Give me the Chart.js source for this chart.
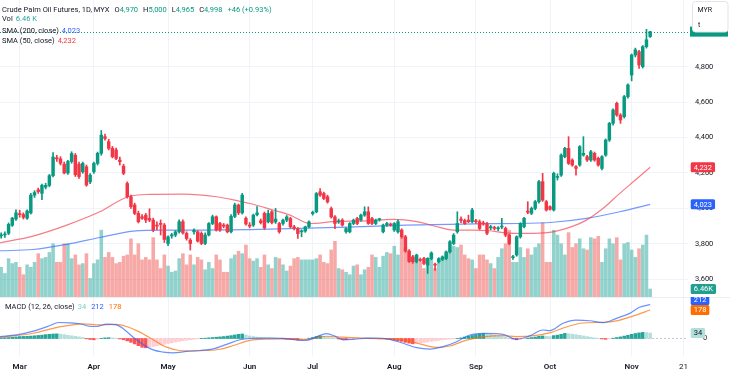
<!DOCTYPE html>
<html><head><meta charset="utf-8">
<script src="https://cdn.jsdelivr.net/npm/chart.js@4.4.1/dist/chart.umd.min.js"></script>
<style>
html,body{margin:0;padding:0;background:#fff;width:730px;height:380px;overflow:hidden;}
#wrap{position:relative;width:730px;height:380px;font-family:Roboto,"Noto Sans",sans-serif;}
#cMain{position:absolute;left:0;top:0;}
#cMacd{position:absolute;left:0;top:297px;}
.lg{position:absolute;font-size:7.5px;line-height:10px;color:#131722;white-space:nowrap;}
.lg span.v{margin-left:3px;}
.lg span.k{margin-left:5px;}
</style></head>
<body><div id="wrap">
<canvas id="cMain" width="730" height="297"></canvas>
<canvas id="cMacd" width="730" height="83"></canvas>
<div class="lg" id="lg1" style="left:2px;top:5px"></div>
<div class="lg" id="lg2" style="left:2px;top:13.5px"></div>
<div class="lg" id="lg3" style="left:2px;top:25.5px"></div>
<div class="lg" id="lg4" style="left:2px;top:35.7px"></div>
<div class="lg" id="lg5" style="left:5px;top:302px"></div>
</div>
<script>
// ---------- DATA ----------
const symbolTitle = 'Crude Palm Oil Futures, 1D, MYX';
const monthLabels = ['Mar','Apr','May','Jun','Jul','Aug','Sep','Oct','Nov','21'];
const monthIdx    = [5, 25, 45, 67, 84, 106, 128, 148, 170, 184];
const priceTicks  = [3600, 3800, 4000, 4200, 4400, 4600, 4800];

const openP = [
3845,3850,3860,3905,3940,3968,3965,3945,3975,4075,
4105,4085,4120,4130,4185,4285,4280,4250,4200,4265,
4300,4250,4207,4235,4150,4207,4254,4311,4405,4377,
4339,4330,4273,4239,4141,4066,4019,3972,3953,3962,
3944,3934,3906,3915,3906,3802,3845,3850,3868,3925,
3859,3821,3868,3868,3859,3802,3850,3915,3953,3915,
3906,3906,3868,3955,4019,3975,3944,3906,3906,3965,
3930,3972,3924,3981,3924,3915,3915,3934,3943,3896,
3886,3868,3872,3896,3971,3981,4094,4084,4066,3999,
3952,3924,3934,3868,3868,3915,3943,3934,3962,3981,
3943,3915,3936,3868,3906,3910,3878,3868,3878,3840,
3760,3727,3699,3712,3718,3680,3717,3685,3699,3712,
3717,3755,3802,3868,3940,3932,3934,3925,3928,3925,
3918,3915,3890,3890,3885,3895,3887,3849,3722,3737,
3840,3897,3985,3972,4000,4038,4151,4038,4010,3991,
4175,4188,4292,4339,4273,4236,4245,4301,4292,4273,
4311,4283,4226,4301,4386,4480,4593,4527,4518,4631,
4753,4866,4885,4800,4913,4970];
const highP = [
3862,3868,3918,3950,3992,3990,3975,3992,4085,4100,
4115,4138,4142,4192,4315,4300,4292,4262,4272,4320,
4310,4262,4262,4245,4196,4262,4318,4440,4420,4390,
4350,4340,4290,4250,4150,4075,4030,3985,3965,3972,
3998,3945,3925,3935,3915,3845,3860,3875,3935,3935,
3868,3830,3885,3875,3868,3862,3920,3962,3958,3922,
3915,3912,3965,4030,4025,4085,3952,3920,3968,4010,
3940,3980,3990,3988,4000,3922,3940,3960,3950,3905,
3892,3880,3900,3930,3985,4090,4112,4092,4075,4008,
3960,3940,3942,3892,3920,3940,3950,3968,4009,4009,
3950,3940,3945,3912,3922,3918,3920,3935,3885,3848,
3768,3735,3742,3720,3724,3722,3755,3692,3722,3732,
3760,3818,3858,3981,3952,3940,3962,4000,3938,3935,
3928,3922,3905,3900,3898,3944,3895,3855,3735,3845,
3920,3950,4038,4008,4045,4158,4198,4045,4015,4205,
4195,4308,4345,4405,4280,4242,4355,4405,4300,4328,
4318,4290,4298,4392,4486,4562,4600,4535,4638,4704,
4872,4905,4892,4920,5011,5000];
const lowP = [
3832,3836,3852,3898,3932,3950,3940,3938,3968,4062,
4085,4050,4110,4122,4178,4265,4245,4195,4192,4255,
4180,4170,4198,4125,4140,4198,4245,4300,4385,4330,
4285,4275,4245,4190,4058,4000,3965,3918,3938,3920,
3925,3868,3880,3850,3808,3790,3832,3840,3860,3855,
3821,3765,3855,3810,3795,3795,3845,3908,3872,3870,
3890,3862,3862,3948,3965,3968,3905,3890,3898,3958,
3912,3882,3918,3912,3915,3860,3905,3925,3890,3878,
3830,3840,3865,3890,3962,3975,4068,4050,4030,3945,
3886,3915,3900,3860,3862,3908,3908,3928,3955,3910,
3908,3908,3928,3862,3898,3900,3870,3860,3832,3752,
3695,3690,3692,3700,3682,3633,3710,3650,3692,3705,
3710,3748,3795,3860,3920,3910,3920,3918,3915,3880,
3905,3852,3880,3878,3875,3885,3840,3795,3712,3730,
3832,3890,3970,3965,3992,4030,4040,3985,3990,3985,
4160,4180,4285,4248,4238,4188,4238,4295,4266,4266,
4266,4238,4218,4294,4378,4470,4520,4480,4510,4622,
4720,4855,4790,4792,4905,4965];
const closeP = [
3850,3852,3910,3945,3975,3965,3950,3985,4075,4090,
4095,4130,4130,4185,4290,4280,4255,4200,4265,4310,
4190,4180,4254,4132,4188,4254,4311,4414,4395,4339,
4292,4282,4264,4198,4066,4010,3972,3925,3944,3934,
3934,3878,3900,3910,3825,3840,3850,3868,3925,3862,
3830,3802,3877,3815,3802,3850,3915,3953,3878,3878,
3900,3868,3955,4020,3975,4075,3912,3900,3962,3975,
3920,3890,3971,3920,3940,3868,3934,3952,3896,3887,
3858,3872,3896,3924,3978,4084,4075,4056,4037,3952,
3915,3928,3906,3886,3915,3934,3915,3962,3981,3915,
3915,3934,3938,3906,3915,3906,3915,3925,3840,3760,
3700,3699,3736,3706,3689,3718,3746,3680,3717,3727,
3755,3812,3849,3915,3932,3915,3925,3991,3925,3887,
3912,3859,3897,3887,3888,3897,3849,3802,3727,3840,
3915,3944,3978,4000,4038,4151,4047,3991,3995,4198,
4179,4301,4339,4254,4245,4226,4349,4311,4273,4320,
4273,4245,4292,4386,4480,4556,4527,4499,4631,4697,
4866,4895,4810,4913,4952,4998];
const volK = [
24,19,31,27,28,24,18,26,24,28,35,31,32,36,43,28,28,43,43,31,34,26,27,35,15,27,30,54,32,36,32,27,28,33,34,47,
34,43,30,32,30,48,30,23,34,25,20,21,31,35,26,34,26,32,30,22,28,23,34,30,20,20,31,34,37,35,42,31,29,31,
24,
34,26,23,32,31,26,21,25,31,32,30,30,30,30,31,34,28,27,38,45,23,22,20,18,25,26,18,22,24,34,32,24,33,36,
35,
41,34,50,40,37,32,34,28,23,31,36,23,30,32,35,38,41,40,42,34,31,30,23,
34,34,30,27,23,32,39,43,54,28,28,40,32,39,34,40,43,60,28,28,54,50,43,34,52,40,43,47,39,38,48,47,49,28,39,47,43,48,30,43,44,38,32,39,42,50,6.46];

const sma50Idx = [-0.3,8.6,17.7,26.6,34.2,40.1,49.1,58.1,64.4,67.1,73.3,77.9,83.2,89.5,98.6,105.7,112.1,118.3,121.8,127.2,131.8,136.2,140.7,148.8,154.2,157.8,162,166.8,171,175];
const sma50Val = [3806,3844,3906,3981,4066,4079,4081,4066,4040,4028,3991,3962,3915,3925,3930,3938,3925,3893,3878,3878,3874,3862,3859,3868,3900,3934,3995,4085,4160,4232];
const sma200Idx = [-0.3,8.6,17.7,26.6,35.6,44.6,53.6,67.1,91.3,109.3,131.7,139.9,148.8,157.8,166.8,175];
const sma200Val = [3761,3768,3797,3836,3872,3878,3878,3880,3893,3906,3914,3915,3922,3944,3981,4023];

const macdIdx = [-0.3,4.2,8.7,13.2,15.4,18.6,21.3,24,25.8,28.4,31.1,33,35.6,38.3,41,43.7,46.4,50,53.6,57.2,60.8,64.4,67.1,72,76,80,82.3,85,87.7,90,92.2,95,98.5,101,104.8,108.4,112,115.6,119.2,122.8,126.4,130,135.3,138.9,142.5,146.1,147.9,151.5,155,158.7,162.3,165.9,169.5,172.1,175];
const macdVal = [12,23,46,81,100,98,92,76,75,90,85,60,8,-37,-71,-85,-90,-81,-75,-65,-37,-8,0,2,1,-10,-12,10,30,15,-8,-5,2,3,-5,-30,-57,-66,-51,-20,22,32,26,-5,16,53,49,95,115,111,99,126,157,195,212];
const signalIdx = [-0.3,8.7,15.4,22.2,26.7,31.1,33.8,37.4,41,44.6,48.2,51.8,55.4,59,62.6,67.1,72,76,82.3,87.7,92.2,98.5,104.8,108.4,112,117.4,121,125.5,130,135.3,138.9,144.3,147.9,152.4,156.9,162.3,165.9,170.3,175];
const signalVal = [8,33,71,92,85,88,75,40,-8,-54,-75,-77,-75,-67,-44,-12,-4,-3,-7,14,8,1,-2,-8,-28,-55,-47,-10,10,18,12,20,35,72,97,101,110,140,178];
const histVal = [
4,5,6,8,10,12,13,14,15,17,
19,21,24,26,28,29,27,24,20,17,
14,10,6,-2,-6,-8,-4,1,4,5,
4,2,-3,-8,-15,-24,-34,-45,-55,-58,
-54,-50,-46,-41,-36,-31,-27,-22,-18,-14,
-11,-8,-5,-3,1,2,4,6,8,10,
12,15,18,22,26,28,22,16,12,9,
7,5,4,3,2,1,-2,-4,-6,-8,
-9,-7,-4,2,6,12,16,14,10,6,
2,-3,-6,-7,-5,-4,-3,-2,-1,1,
1,-1,-2,-2,-4,-7,-10,-14,-18,-24,
-29,-33,-31,-28,-25,-22,-18,-15,-12,-9,
-6,-4,-2,1,4,9,14,19,24,28,
30,28,25,21,17,12,8,4,-3,-8,
-5,-1,3,6,9,14,16,14,12,18,
21,26,32,30,27,24,20,16,12,8,
4,1,-3,-5,-2,2,6,10,15,20,
26,31,35,38,37,34];

// ---------- STYLE / LAYOUT ----------
const FONT = 'Roboto, "Noto Sans", sans-serif';
const UP = '#089981', DN = '#f23645';
const X_MIN = -0.31, X_MAX = 185.2;
const AXIS_W = 42;
const N = closeP.length, L = N - 1;
const idx = closeP.map((_, i) => i);
const isUp = i => closeP[i] >= openP[i];
const fmt = v => Math.round(v).toLocaleString('en-US');
const fitRight = s => { s.width = AXIS_W; s.paddingTop = 0; s.paddingBottom = 0; };

function tag(ctx, text, y, x0, bg, fg) {
  ctx.save();
  ctx.font = '7.5px ' + FONT;
  const w = ctx.measureText(text).width + 6;
  ctx.fillStyle = bg;
  ctx.beginPath();
  ctx.roundRect(x0, y - 5, w, 10, 1.5);
  ctx.fill();
  ctx.fillStyle = fg;
  ctx.textAlign = 'left';
  ctx.textBaseline = 'middle';
  ctx.fillText(text, x0 + 3, y + 0.5);
  ctx.restore();
}

const xScaleBase = {
  type: 'linear', min: X_MIN, max: X_MAX, offset: false,
  grid: { color: '#f0f3fa', drawTicks: false, offset: false },
  border: { display: false },
  afterBuildTicks: s => { s.ticks = monthIdx.map(v => ({ value: v })); }
};

// ---------- MAIN PANE ----------
const mainOverlay = {
  id: 'mainOverlay',
  afterDatasetsDraw(chart) {
    const { ctx, chartArea: a, scales } = chart;
    const y = Math.round(scales.y.getPixelForValue(closeP[L])) + 0.5;
    ctx.save();
    ctx.strokeStyle = UP; ctx.lineWidth = 1; ctx.setLineDash([1, 2]);
    ctx.beginPath(); ctx.moveTo(a.left, y); ctx.lineTo(a.right, y); ctx.stroke();
    ctx.restore();
  },
  afterDraw(chart) {
    const { ctx, chartArea: a, scales } = chart;
    const x0 = a.right + 2.7;
    tag(ctx, fmt(sma50Val[sma50Val.length - 1]), scales.y.getPixelForValue(sma50Val[sma50Val.length - 1]), x0, DN, '#fff');
    tag(ctx, fmt(sma200Val[sma200Val.length - 1]), scales.y.getPixelForValue(sma200Val[sma200Val.length - 1]), x0, '#2962ff', '#fff');
    tag(ctx, volK[L].toFixed(2) + 'K', scales.yv.getPixelForValue(volK[L]), x0, '#22a08f', '#fff');
    const yl = scales.y.getPixelForValue(closeP[L]);
    ctx.save();
    ctx.fillStyle = UP;
    ctx.fillRect(a.right + 2, yl - 5, 38, 10);
    ctx.fillStyle = '#fff'; ctx.strokeStyle = '#e0e3eb'; ctx.lineWidth = 1;
    ctx.beginPath(); ctx.roundRect(692.5, 1.5, 35.5, 30.5, 3); ctx.fill(); ctx.stroke();
    ctx.fillStyle = '#131722'; ctx.font = '7px ' + FONT; ctx.textBaseline = 'middle';
    ctx.fillText('MYR', 697.5, 10.5);
    ctx.fillText('t', 698, 25);
    ctx.restore();
  }
};

new Chart(document.getElementById('cMain'), {
  type: 'bar',
  data: {
    datasets: [
      { type: 'line', data: sma50Idx.map((x, k) => ({ x, y: sma50Val[k] })), yAxisID: 'y',
        borderColor: 'rgba(242,54,69,0.65)', borderWidth: 1.2, pointRadius: 0, cubicInterpolationMode: 'monotone', order: 3 },
      { type: 'line', data: sma200Idx.map((x, k) => ({ x, y: sma200Val[k] })), yAxisID: 'y',
        borderColor: 'rgba(41,98,255,0.65)', borderWidth: 1.2, pointRadius: 0, cubicInterpolationMode: 'monotone', order: 3 },
      { data: idx.map(i => ({ x: i, y: [lowP[i], highP[i]] })), yAxisID: 'y', grouped: false,
        barThickness: 1, backgroundColor: c => isUp(c.dataIndex) ? UP : DN, order: 2 },
      { data: idx.map(i => ({ x: i, y: [openP[i], closeP[i]] })), yAxisID: 'y', grouped: false,
        barThickness: 2.8, minBarLength: 1, backgroundColor: c => isUp(c.dataIndex) ? UP : DN, order: 1 },
      { data: idx.map(i => ({ x: i, y: volK[i] })), yAxisID: 'yv', grouped: false,
        barThickness: 2.9, backgroundColor: c => isUp(c.dataIndex) ? 'rgba(38,166,154,0.5)' : 'rgba(239,83,80,0.5)', order: 5 }
    ]
  },
  options: {
    responsive: false, animation: false, events: [],
    layout: { padding: 0 },
    plugins: { legend: { display: false }, tooltip: { enabled: false } },
    scales: {
      x: Object.assign({}, xScaleBase, { ticks: { display: false },
        afterFit: s => { s.height = 0; s.paddingLeft = 0; s.paddingRight = 0; } }),
      y: { position: 'right', min: 3500, max: 5176.5,
        grid: { color: '#f0f3fa', drawTicks: false }, border: { display: false },
        ticks: { font: { size: 7.5, family: FONT }, color: '#131722', padding: 7, callback: v => fmt(v) },
        afterBuildTicks: s => { s.ticks = priceTicks.map(v => ({ value: v })); },
        afterFit: fitRight },
      yv: { display: false, min: 0, max: 240 }
    }
  },
  plugins: [mainOverlay]
});

// ---------- MACD PANE ----------
const histColor = c => {
  const i = c.dataIndex, v = histVal[i], p = i > 0 ? histVal[i - 1] : v;
  if (v >= 0) return v >= p ? '#26a69a' : '#b2dfdb';
  return v <= p ? '#ff5252' : '#ffcdd2';
};
const macdOverlay = {
  id: 'macdOverlay',
  beforeDatasetsDraw(chart) {
    const { ctx, chartArea: a, scales } = chart;
    const y = Math.round(scales.y.getPixelForValue(0)) + 0.5;
    ctx.save();
    ctx.strokeStyle = '#c3c6ce'; ctx.lineWidth = 1; ctx.setLineDash([2, 2]);
    ctx.beginPath(); ctx.moveTo(a.left, y); ctx.lineTo(a.right, y); ctx.stroke();
    ctx.setLineDash([]); ctx.strokeStyle = '#eceef3';
    ctx.beginPath(); ctx.moveTo(0, 0.5); ctx.lineTo(730, 0.5); ctx.stroke();
    ctx.restore();
  },
  afterDraw(chart) {
    const { ctx, chartArea: a, scales } = chart;
    const x0 = a.right + 2.7;
    const mL = macdVal[macdVal.length - 1], sL = signalVal[signalVal.length - 1], hL = histVal[L];
    let ym = scales.y.getPixelForValue(mL), ys = scales.y.getPixelForValue(sL);
    if (ys - ym < 10) ym = ys - 10;
    tag(ctx, String(hL), scales.y.getPixelForValue(hL), x0, '#b2dfdb', '#131722');
    tag(ctx, String(sL), ys, x0, '#ff6d00', '#fff');
    tag(ctx, String(mL), ym, x0, '#2962ff', '#fff');
  }
};

new Chart(document.getElementById('cMacd'), {
  type: 'bar',
  data: {
    datasets: [
      { data: idx.map(i => ({ x: i, y: histVal[i] })), grouped: false, barThickness: 2.8,
        backgroundColor: histColor, order: 3 },
      { type: 'line', data: signalIdx.map((x, k) => ({ x, y: signalVal[k] })),
        borderColor: 'rgba(255,109,0,0.7)', borderWidth: 1.2, pointRadius: 0, cubicInterpolationMode: 'monotone', order: 2 },
      { type: 'line', data: macdIdx.map((x, k) => ({ x, y: macdVal[k] })),
        borderColor: 'rgba(41,98,255,0.7)', borderWidth: 1.2, pointRadius: 0, cubicInterpolationMode: 'monotone', order: 1 }
    ]
  },
  options: {
    responsive: false, animation: false, events: [],
    layout: { padding: { top: 1 } },
    plugins: { legend: { display: false }, tooltip: { enabled: false } },
    scales: {
      x: Object.assign({}, xScaleBase, {
        ticks: { color: '#131722', padding: 6, maxRotation: 0, autoSkip: false,
          font: c => ({ size: 8, family: FONT, weight: (c.tick && isNaN(Number(monthLabels[monthIdx.indexOf(c.tick.value)]))) ? '600' : '400' }),
          callback: v => { const k = monthIdx.indexOf(v); return k >= 0 ? monthLabels[k] : ''; } },
        afterFit: s => { s.height = 24; s.paddingLeft = 0; s.paddingRight = 0; } }),
      y: { position: 'right', min: -109.4, max: 253.1,
        grid: { display: false }, border: { display: false },
        ticks: { font: { size: 7.5, family: FONT }, color: '#131722', padding: 7 },
        afterBuildTicks: s => { s.ticks = [{ value: 0 }]; },
        afterFit: fitRight }
    }
  },
  plugins: [macdOverlay]
});

// ---------- LEGENDS (text from data) ----------
const chg = closeP[L] - closeP[L - 1];
const pct = (chg / closeP[L - 1] * 100).toFixed(2);
const sgn = chg >= 0 ? '+' : '−';
const tv = t => `<span style="color:${UP}">${t}</span>`;
document.getElementById('lg1').innerHTML =
  `<span>${symbolTitle}</span>` +
  `<span class="k">O${tv(fmt(openP[L]))}</span><span class="k">H${tv(fmt(highP[L]))}</span>` +
  `<span class="k">L${tv(fmt(lowP[L]))}</span><span class="k">C${tv(fmt(closeP[L]))}</span>` +
  `<span class="k">${tv(sgn + Math.abs(chg) + ' (' + sgn + pct + '%)')}</span>`;
document.getElementById('lg2').innerHTML = `Vol<span class="v" style="color:#26a69a">${volK[L].toFixed(2)} K</span>`;
document.getElementById('lg3').innerHTML = `SMA (200, close)<span class="v" style="color:#2962ff">${fmt(sma200Val[sma200Val.length-1])}</span>`;
document.getElementById('lg4').innerHTML = `SMA (50, close)<span class="v" style="color:${DN}">${fmt(sma50Val[sma50Val.length-1])}</span>`;
document.getElementById('lg5').innerHTML = `MACD (12, 26, close)<span class="v" style="color:#7fcfc4">${histVal[L]}</span>` +
  `<span class="k" style="color:#2962ff">${macdVal[macdVal.length-1]}</span><span class="k" style="color:#ff6d00">${signalVal[signalVal.length-1]}</span>`;
</script>
</body></html>
